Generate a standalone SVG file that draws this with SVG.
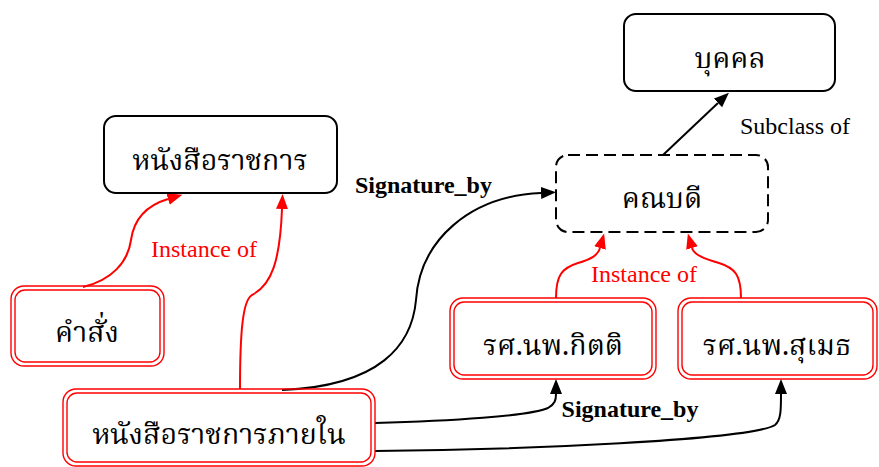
<svg xmlns="http://www.w3.org/2000/svg" width="879" height="467" viewBox="0 0 879 467">
  <style>
    .bg { fill: #ffffff; }
    .box { fill: #ffffff; stroke: #000000; stroke-width: 2; }
    .dashed { fill: #ffffff; stroke: #000000; stroke-width: 2; stroke-dasharray: 12 6; }
    .dbl { fill: none; stroke: #ff0000; stroke-width: 1.4; }
    .thai { font-family: "Noto Serif Thai", "Noto Sans Thai Looped", "Noto Sans Thai", "Loma", "Garuda", "DejaVu Sans", serif; font-size: 28.5px; fill: #000000; text-anchor: middle; }
    .lbl { font-family: "Liberation Serif", "Times New Roman", serif; font-size: 24px; }
    .bold { font-weight: bold; fill: #000000; }
    .red { fill: #ff0000; }
    .blk { fill: #000000; }
    .edge { fill: none; stroke: #000000; stroke-width: 2; }
    .edge-red { fill: none; stroke: #ff0000; stroke-width: 2; }
  </style>
  <defs>
    <marker id="arrow-black" markerUnits="userSpaceOnUse" markerWidth="18" markerHeight="14" refX="0" refY="6" orient="auto">
      <path d="M0,0 L15,6 L0,12 Z" fill="#000000"/>
    </marker>
    <marker id="arrow-red" markerUnits="userSpaceOnUse" markerWidth="18" markerHeight="14" refX="0" refY="6" orient="auto">
      <path d="M0,0 L15,6 L0,12 Z" fill="#ff0000"/>
    </marker>
  </defs>

  <rect class="bg" x="0" y="0" width="879" height="467"/>

  <!-- connectors -->
  <g id="connectors">
    <path class="edge" d="M663,155 L718,103" marker-end="url(#arrow-black)"/>
    <path class="edge" d="M282,390 C380,386 412,345 416,300 C420,240 470,196 541,193" marker-end="url(#arrow-black)"/>
    <path class="edge-red" d="M83,287 C112,280 128,262 131,240 C134,218 148,205 168,199" marker-end="url(#arrow-red)"/>
    <path class="edge-red" d="M240,389 C240,330 243,300 252,295 C272,285 280,260 282,209" marker-end="url(#arrow-red)"/>
    <path class="edge-red" d="M556,298 C556,275 562,268 578,263 C592,259 598,255 600,248" marker-end="url(#arrow-red)"/>
    <path class="edge-red" d="M741,298 C741,275 735,268 719,263 C705,259 694,255 692,248" marker-end="url(#arrow-red)"/>
    <path class="edge" d="M375,423 C450,421 530,416 548,408 C555,404 556,400 556,394" marker-end="url(#arrow-black)"/>
    <path class="edge" d="M375,451 C520,450 750,440 775,425 C781,420 781,410 781,394" marker-end="url(#arrow-black)"/>

    <text class="lbl blk" x="740" y="134">Subclass of</text>
    <text class="lbl bold" x="355" y="193">Signature_by</text>
    <text class="lbl red" x="204" y="257" text-anchor="middle">Instance of</text>
    <text class="lbl red" x="644" y="282" text-anchor="middle">Instance of</text>
    <text class="lbl bold" x="630" y="417" text-anchor="middle">Signature_by</text>
  </g>

  <!-- nodes -->
  <g id="node-person">
    <rect class="box" x="624" y="14" width="211" height="77" rx="12"/>
    <text class="thai" x="730" y="68">บุคคล</text>
  </g>
  <g id="node-official-letter">
    <rect class="box" x="104" y="116" width="233" height="77" rx="12"/>
    <text class="thai" x="220" y="170">หนังสือราชการ</text>
  </g>
  <g id="node-dean">
    <rect class="dashed" x="556" y="155" width="212" height="77" rx="12"/>
    <text class="thai" x="662" y="208">คณบดี</text>
  </g>
  <g id="node-order">
    <rect class="dbl" x="11" y="286" width="153" height="80" rx="13"/>
    <rect class="dbl" x="15" y="290" width="145" height="72" rx="10"/>
    <text class="thai" x="87" y="342">คำสั่ง</text>
  </g>
  <g id="node-internal-letter">
    <rect class="dbl" x="63" y="389" width="312" height="77" rx="13"/>
    <rect class="dbl" x="67" y="393" width="304" height="69" rx="10"/>
    <text class="thai" x="219" y="444">หนังสือราชการภายใน</text>
  </g>
  <g id="node-kitti">
    <rect class="dbl" x="450" y="298" width="206" height="81" rx="13"/>
    <rect class="dbl" x="454" y="302" width="198" height="73" rx="10"/>
    <text class="thai" x="553" y="355">รศ.นพ.กิตติ</text>
  </g>
  <g id="node-sumet">
    <rect class="dbl" x="678" y="298" width="199" height="81" rx="13"/>
    <rect class="dbl" x="682" y="302" width="191" height="73" rx="10"/>
    <text class="thai" x="777" y="355">รศ.นพ.สุเมธ</text>
  </g>
</svg>
